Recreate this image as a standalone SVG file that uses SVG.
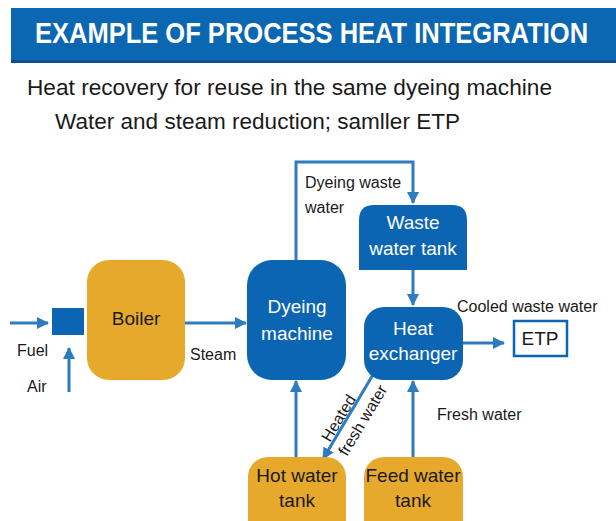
<svg xmlns="http://www.w3.org/2000/svg" width="616" height="521" viewBox="0 0 616 521">
<defs>
<style>
text{font-family:"Liberation Sans",Arial,sans-serif;}
.blue{fill:#0b65b2;}
.orange{fill:#e6a92b;}
.wt{fill:#ffffff;font-size:19px;text-anchor:middle;}
.dk{fill:#1a1a1a;font-size:19px;text-anchor:middle;}
.lbl{fill:#1a1a1a;font-size:16px;}
.ln{stroke:#2f7bc0;stroke-width:3;fill:none;}
.arr{marker-end:url(#ah);}
</style>
<marker id="ah" markerUnits="userSpaceOnUse" markerWidth="14" markerHeight="14" refX="11" refY="6" orient="auto">
<path d="M0,0 L12,6 L0,12 Z" fill="#2f7bc0"/>
</marker>
</defs>
<rect width="616" height="521" fill="#ffffff"/>
<g id="title">
<rect x="11" y="8" width="605" height="55" fill="#0b67b2"/>
<rect x="11" y="60" width="605" height="3" fill="#0a4f8e"/>
<text transform="translate(35,43) scale(0.88,1)" font-size="29" font-weight="bold" fill="#ffffff">EXAMPLE OF PROCESS HEAT INTEGRATION</text>
</g>
<g id="subtitle">
<text x="27" y="95" font-size="22" fill="#1a1a1a" textLength="525" lengthAdjust="spacingAndGlyphs">Heat recovery for reuse in the same dyeing machine</text>
<text x="55" y="129" font-size="22" fill="#1a1a1a" textLength="405" lengthAdjust="spacingAndGlyphs">Water and steam reduction; samller ETP</text>
</g>
<g id="connectors">
<line class="ln arr" x1="10" y1="323" x2="48" y2="323"/>
<line class="ln arr" x1="69" y1="392" x2="69" y2="348"/>
<line class="ln arr" x1="185" y1="323" x2="246" y2="323"/>
<polyline class="ln arr" points="296,260 296,162 413,162 413,203"/>
<line class="ln arr" x1="413" y1="270" x2="413" y2="305"/>
<line class="ln arr" x1="463" y1="343" x2="504" y2="343"/>
<line class="ln arr" x1="296" y1="457" x2="296" y2="381"/>
<line class="ln arr" x1="413" y1="457" x2="413" y2="381"/>
<line class="ln arr" x1="374" y1="373" x2="323" y2="459"/>
<text class="lbl" x="17" y="356">Fuel</text>
<text class="lbl" x="27" y="392">Air</text>
<text class="lbl" x="190" y="360">Steam</text>
<text class="lbl" x="305" y="188">Dyeing waste</text>
<text class="lbl" x="305" y="213">water</text>
<text class="lbl" x="457" y="312">Cooled waste water</text>
<text class="lbl" x="437" y="420">Fresh water</text>
<text class="lbl" font-size="15" transform="translate(330,443) rotate(-59)">Heated</text>
<text class="lbl" font-size="15" transform="translate(347,457) rotate(-59)">fresh water</text>
</g>
<g id="mixer">
<rect class="blue" x="52" y="308" width="32" height="27"/>
</g>
<g id="boiler">
<rect class="orange" x="87" y="260" width="98" height="120" rx="22"/>
<text class="dk" x="136" y="325">Boiler</text>
</g>
<g id="dyeing-machine">
<rect class="blue" x="247" y="260" width="99" height="120" rx="25"/>
<text class="wt" x="297" y="313">Dyeing</text>
<text class="wt" x="297" y="340">machine</text>
</g>
<g id="waste-water-tank">
<path class="blue" d="M359,270 L359,220 Q359,205 374,205 L452,205 Q467,205 467,220 L467,270 Z"/>
<text class="wt" x="413" y="229">Waste</text>
<text class="wt" x="413" y="255">water tank</text>
</g>
<g id="heat-exchanger">
<rect class="blue" x="364" y="307" width="99" height="73" rx="20"/>
<text class="wt" x="413" y="335">Heat</text>
<text class="wt" x="413" y="360">exchanger</text>
</g>
<g id="etp">
<rect x="514" y="321" width="53" height="35" fill="#ffffff" stroke="#0b65b2" stroke-width="2.5"/>
<text class="dk" x="540" y="345" font-size="17">ETP</text>
</g>
<g id="hot-water-tank">
<rect class="orange" x="248" y="457" width="98" height="90" rx="20"/>
<text class="dk" x="297" y="482">Hot water</text>
<text class="dk" x="297" y="507">tank</text>
</g>
<g id="feed-water-tank">
<rect class="orange" x="364" y="457" width="99" height="90" rx="20"/>
<text class="dk" x="413" y="482">Feed water</text>
<text class="dk" x="413" y="507">tank</text>
</g>
</svg>
